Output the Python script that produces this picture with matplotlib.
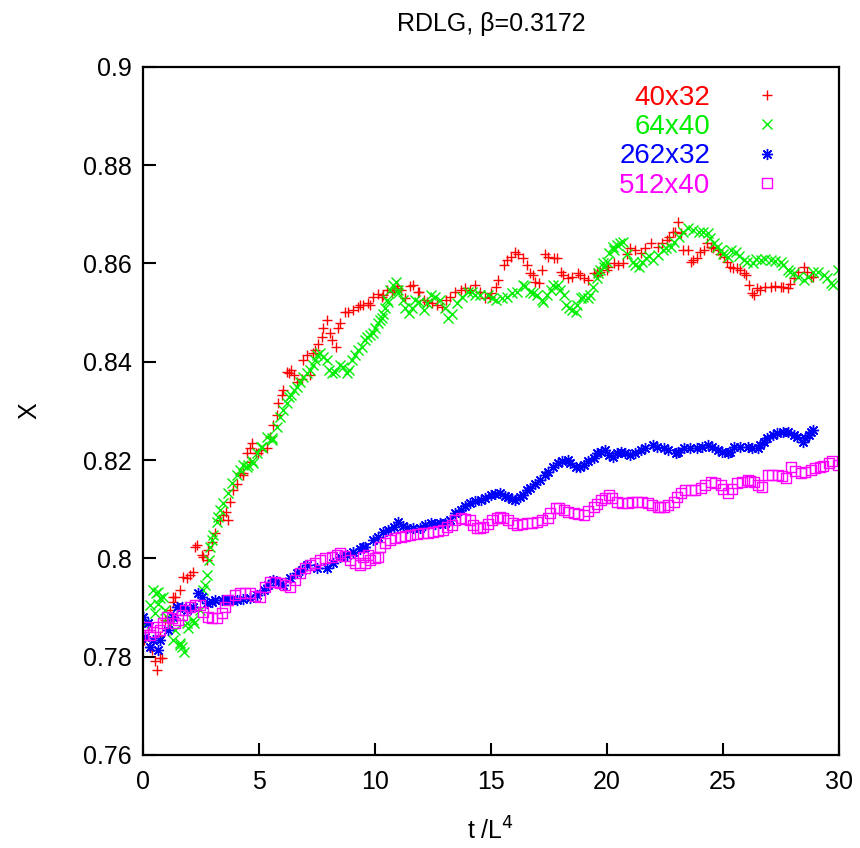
import matplotlib
matplotlib.use("Agg")
import matplotlib.pyplot as plt
from matplotlib.path import Path

plt.rcParams['font.family'] = ['Liberation Sans', 'DejaVu Sans']

# 40x32 (red +)
t_40x32 = [0.05, 0.3, 0.5, 0.6, 0.73, 0.75, 0.95, 1.16, 1.3, 1.38, 1.6, 1.73, 2.03, 2.16, 2.33,
           2.55, 2.76, 2.8, 3.1, 3.45, 3.65, 3.75, 4.05, 4.3, 4.5, 4.62, 4.7, 4.85, 5.1, 5.35,
           5.6, 5.83, 6.0, 6.2, 6.4, 6.65, 6.85, 7.07, 7.2, 7.4, 7.7, 7.94, 8.07, 8.3, 8.5,
           8.7, 9.06, 9.37, 9.5, 9.8, 9.93, 10.14, 10.5, 10.8, 10.96, 11.1, 11.3, 11.65, 11.9,
           12.1, 12.47, 12.9, 13.25, 13.7, 14.1, 14.33, 14.76, 15.0, 15.2, 15.3, 15.55, 15.84,
           16.05, 16.36, 16.57, 16.8, 17.05, 17.2, 17.45, 17.7, 18.0, 18.3, 18.73, 19.0, 19.42,
           19.7, 20.0, 20.3, 20.67, 21.0, 21.45, 21.88, 22.2, 22.6, 22.83, 23.05, 23.2, 23.5,
           23.6, 23.9, 24.2, 24.47, 24.77, 25.03, 25.3, 25.6, 25.9, 26.1, 26.33, 26.6, 27.06,
           27.5, 27.8, 28.05, 28.5, 28.8, 28.9,
           # second reading pass
           0.37, 0.8, 1.31, 1.88, 2.24, 2.6, 2.96, 3.32, 3.58, 3.89, 4.18, 4.32, 4.61, 4.97,
           5.47, 5.76, 6.05, 6.31, 6.51, 6.91, 7.34, 7.56, 7.77, 8.13, 8.42, 8.85, 9.28, 9.71,
           10.29, 10.36, 10.72, 10.93, 11.51, 11.87, 12.23, 12.66, 13.06, 13.45, 13.88, 14.53,
           14.96, 15.68, 16.18, 16.68, 16.9, 17.33, 17.83, 18.12, 18.48, 18.84, 19.19, 19.56,
           19.63, 20.06, 20.49, 20.85, 21.21, 21.64, 22.36, 22.69, 22.93, 23.29, 23.72, 24.01,
           24.3, 24.58, 24.87, 25.16, 25.44, 25.73, 25.99, 26.24, 26.45, 26.81, 27.24, 27.6,
           27.89, 28.25, 28.61]
x_40x32 = [0.7834, 0.7820, 0.7791, 0.7773, 0.7797, 0.7842, 0.7875, 0.7895, 0.7911, 0.7921, 0.7936,
           0.7962, 0.7966, 0.7972, 0.8027, 0.8007, 0.7997, 0.8017, 0.8052, 0.8088, 0.8078, 0.8115,
           0.8151, 0.8170, 0.8214, 0.8196, 0.8235, 0.8214, 0.8220, 0.8224, 0.8271, 0.8316, 0.8332,
           0.8379, 0.8383, 0.8359, 0.8365, 0.8414, 0.8373, 0.8424, 0.8450, 0.8485, 0.8458, 0.8430,
           0.8479, 0.8501, 0.8505, 0.8515, 0.8515, 0.8515, 0.8532, 0.8538, 0.8546, 0.8546, 0.8550,
           0.8546, 0.8530, 0.8556, 0.8542, 0.8525, 0.8519, 0.8511, 0.8532, 0.8546, 0.8546, 0.8556,
           0.8530, 0.8540, 0.8552, 0.8566, 0.8597, 0.8613, 0.8623, 0.8611, 0.8597, 0.8576, 0.8560,
           0.8586, 0.8613, 0.8611, 0.8582, 0.8570, 0.8580, 0.8570, 0.8580, 0.8582, 0.8586, 0.8601,
           0.8601, 0.8631, 0.8621, 0.8641, 0.8633, 0.8648, 0.8664, 0.8684, 0.8662, 0.8627, 0.8603,
           0.8611, 0.8627, 0.8633, 0.8627, 0.8613, 0.8593, 0.8591, 0.8580, 0.8556, 0.8536, 0.8546,
           0.8552, 0.8552, 0.8550, 0.8570, 0.8593, 0.8572, 0.8572,
           0.7814, 0.7797, 0.7922, 0.7959, 0.8024, 0.8003, 0.8034, 0.8078, 0.8095, 0.8139, 0.8173,
           0.8173, 0.8224, 0.8214, 0.8247, 0.8292, 0.8342, 0.8376, 0.8373, 0.8403, 0.8417, 0.8437,
           0.8468, 0.8444, 0.8468, 0.8502, 0.8512, 0.8519, 0.8532, 0.8536, 0.8542, 0.8553, 0.8553,
           0.8542, 0.8522, 0.8515, 0.8525, 0.8542, 0.8549, 0.8542, 0.8532, 0.8607, 0.8620, 0.8580,
           0.8563, 0.8620, 0.8610, 0.8576, 0.8573, 0.8576, 0.8566, 0.8580, 0.8576, 0.8593, 0.8597,
           0.8620, 0.8627, 0.8631, 0.8641, 0.8654, 0.8664, 0.8627, 0.8607, 0.8624, 0.8641, 0.8631,
           0.8620, 0.8603, 0.8590, 0.8586, 0.8576, 0.8539, 0.8549, 0.8551, 0.8554, 0.8551, 0.8559,
           0.8583, 0.8583]

# 64x40 (green x)
t_64x40 = [0.1, 0.3, 0.5, 0.55, 0.65, 0.75, 0.86, 0.95, 1.16, 1.38, 1.6, 1.68, 1.75, 1.94, 2.2,
           2.45, 2.6, 2.76, 2.85, 2.9, 3.0, 3.2, 3.3, 3.67, 4.05, 4.3, 4.5, 4.75, 4.9, 5.1, 5.35,
           5.55, 5.9, 6.2, 6.4, 6.65, 6.9, 7.2, 7.4, 7.65, 7.94, 8.15, 8.5, 8.8, 9.0, 9.28, 9.45,
           9.67, 9.8, 9.93, 10.14, 10.23, 10.45, 10.66, 10.9, 11.0, 11.2, 11.45, 11.74, 12.1, 12.4,
           12.8, 13.16, 13.55, 14.0, 14.33, 14.85, 15.2, 15.7, 16.14, 16.36, 16.7, 17.0, 17.26,
           17.57, 17.87, 18.13, 18.34, 18.65, 18.86, 19.16, 19.38, 19.6, 19.85, 20.07, 20.3, 20.45,
           20.7, 21.1, 21.36, 21.67, 22.0, 22.4, 22.75, 23.1, 23.5, 23.95, 24.34, 24.6, 24.9, 25.2,
           25.55, 25.9, 26.28, 26.63, 27.06, 27.5, 27.8, 28.05, 28.5, 28.9, 29.35, 29.65, 29.95,
           # second reading pass
           0.44, 0.66, 1.02, 1.31, 1.59, 1.88, 2.17, 2.67, 2.96, 3.25, 3.46, 3.82, 4.18, 4.54,
           4.68, 5.12, 5.55, 5.76, 6.05, 6.31, 6.51, 6.77, 7.06, 7.31, 7.51, 7.77, 8.03, 8.28,
           8.63, 8.89, 9.14, 9.57, 10.0, 10.29, 10.33, 10.53, 10.57, 10.76, 11.0, 11.29, 11.58,
           11.91, 12.23, 12.59, 13.02, 13.3, 13.73, 14.17, 14.53, 15.03, 15.46, 15.89, 16.47,
           16.82, 17.19, 17.4, 17.69, 17.97, 18.23, 18.48, 18.72, 18.98, 19.27, 19.56, 19.84,
           19.7, 19.99, 20.27, 20.56, 20.88, 21.21, 21.49, 21.82, 22.21, 22.54, 22.89, 23.29,
           23.72, 24.12, 24.44, 24.73, 25.01, 25.33, 25.7, 26.05, 26.42, 26.81, 27.24, 27.6,
           27.89, 28.25, 28.68, 29.11, 29.5, 29.76]
x_64x40 = [0.7864, 0.7905, 0.7889, 0.7929, 0.7931, 0.7919, 0.7921, 0.7895, 0.7864, 0.7854, 0.7824,
           0.7820, 0.7809, 0.7858, 0.7868, 0.7895, 0.7936, 0.7966, 0.7997, 0.8023, 0.8047, 0.8074,
           0.8098, 0.8133, 0.8169, 0.8190, 0.8186, 0.8194, 0.8214, 0.8226, 0.8247, 0.8241, 0.8287,
           0.8316, 0.8332, 0.8348, 0.8369, 0.8383, 0.8403, 0.8418, 0.8403, 0.8377, 0.8393, 0.8377,
           0.8403, 0.8424, 0.8430, 0.8450, 0.8454, 0.8458, 0.8479, 0.8485, 0.8509, 0.8546, 0.8562,
           0.8540, 0.8525, 0.8499, 0.8525, 0.8505, 0.8536, 0.8525, 0.8489, 0.8519, 0.8542, 0.8536,
           0.8536, 0.8525, 0.8532, 0.8542, 0.8556, 0.8542, 0.8536, 0.8521, 0.8546, 0.8556, 0.8536,
           0.8509, 0.8501, 0.8530, 0.8530, 0.8552, 0.8580, 0.8593, 0.8621, 0.8627, 0.8637, 0.8643,
           0.8603, 0.8593, 0.8611, 0.8607, 0.8627, 0.8633, 0.8654, 0.8672, 0.8664, 0.8662, 0.8641,
           0.8627, 0.8613, 0.8623, 0.8607, 0.8601, 0.8607, 0.8607, 0.8603, 0.8586, 0.8580, 0.8566,
           0.8582, 0.8576, 0.8560, 0.8586,
           0.7936, 0.7908, 0.7881, 0.7834, 0.7827, 0.7868, 0.7875, 0.7946, 0.8037, 0.8085, 0.8112,
           0.8153, 0.8180, 0.8190, 0.8197, 0.8227, 0.8244, 0.8268, 0.8302, 0.8329, 0.8342, 0.8359,
           0.8376, 0.8393, 0.8414, 0.8410, 0.8383, 0.8380, 0.8390, 0.8383, 0.8414, 0.8444, 0.8468,
           0.8488, 0.8498, 0.8525, 0.8522, 0.8556, 0.8546, 0.8509, 0.8509, 0.8522, 0.8519, 0.8532,
           0.8509, 0.8498, 0.8532, 0.8542, 0.8536, 0.8529, 0.8529, 0.8539, 0.8553, 0.8539, 0.8525,
           0.8536, 0.8556, 0.8546, 0.8515, 0.8505, 0.8515, 0.8532, 0.8536, 0.8570, 0.8600, 0.8586,
           0.8603, 0.8634, 0.8641, 0.8620, 0.8597, 0.8603, 0.8614, 0.8617, 0.8631, 0.8644, 0.8664,
           0.8668, 0.8664, 0.8651, 0.8634, 0.8620, 0.8627, 0.8614, 0.8603, 0.8608, 0.8608, 0.8605,
           0.8597, 0.8583, 0.8573, 0.8573, 0.8583, 0.8570, 0.8556]

# 262x32 (blue *)
t_262x32 = [0.0, 0.1, 0.43, 0.65, 1.08, 1.47, 1.9, 2.37, 2.76, 3.1, 3.6, 4.05, 4.6, 5.2, 5.6,
            6.04, 6.65, 7.07, 7.94, 8.5, 9.06, 9.5, 9.93, 10.36, 10.8, 11.0, 11.4, 11.96, 12.4,
            12.8, 13.25, 13.7, 14.1, 14.55, 14.98, 15.4, 15.75, 16.05, 16.4, 16.7, 17.1, 17.45,
            17.87, 18.3, 18.65, 19.0, 19.42, 19.72, 20.07, 20.24, 20.6, 21.0, 21.45, 21.97, 22.45,
            22.96, 23.3, 23.9, 24.34, 24.77, 25.2, 25.47, 26.07, 26.5, 26.76, 27.15, 27.6, 28.05,
            28.44, 28.7, 28.9,
            # second reading pass
            0.23, 0.3, 0.73, 1.31, 1.67, 2.17, 2.53, 2.96, 3.39, 3.82, 4.32, 4.9, 5.4, 5.83, 6.34,
            6.84, 7.49, 8.2, 8.78, 9.35, 9.57, 10.14, 10.57, 11.22, 11.65, 12.16, 12.59, 13.02,
            13.45, 13.88, 14.31, 14.74, 15.17, 15.6, 15.89, 16.25, 16.54, 16.9, 17.33, 17.69,
            18.05, 18.4, 18.84, 19.2, 19.56, 19.91, 20.42, 20.78, 21.21, 21.64, 22.14, 22.64,
            23.07, 23.58, 24.08, 24.51, 24.94, 25.3, 25.73, 26.24, 26.59, 26.88, 27.31, 27.81,
            28.18, 28.53, 28.78]
x_262x32 = [0.7881, 0.7840, 0.7834, 0.7813, 0.7854, 0.7901, 0.7895, 0.7929, 0.7909, 0.7915, 0.7915,
            0.7915, 0.7919, 0.7936, 0.7956, 0.7946, 0.7970, 0.7986, 0.7980, 0.8003, 0.8013, 0.8023,
            0.8037, 0.8054, 0.8064, 0.8074, 0.8062, 0.8062, 0.8072, 0.8072, 0.8078, 0.8098, 0.8112,
            0.8119, 0.8129, 0.8133, 0.8125, 0.8119, 0.8129, 0.8143, 0.8159, 0.8176, 0.8194, 0.8200,
            0.8186, 0.8190, 0.8204, 0.8216, 0.8210, 0.8206, 0.8216, 0.8210, 0.8220, 0.8231, 0.8224,
            0.8214, 0.8224, 0.8224, 0.8231, 0.8220, 0.8214, 0.8226, 0.8226, 0.8224, 0.8237, 0.8251,
            0.8257, 0.8251, 0.8237, 0.8251, 0.8261,
            0.7868, 0.7820, 0.7834, 0.7881, 0.7902, 0.7902, 0.7922, 0.7912, 0.7915, 0.7915, 0.7917,
            0.7925, 0.7946, 0.7952, 0.7959, 0.7976, 0.7980, 0.7990, 0.8007, 0.8020, 0.8024, 0.8044,
            0.8058, 0.8066, 0.8061, 0.8068, 0.8070, 0.8072, 0.8092, 0.8106, 0.8117, 0.8123, 0.8130,
            0.8127, 0.8120, 0.8125, 0.8138, 0.8151, 0.8169, 0.8186, 0.8197, 0.8193, 0.8186, 0.8197,
            0.8214, 0.8220, 0.8214, 0.8214, 0.8214, 0.8224, 0.8227, 0.8220, 0.8217, 0.8224, 0.8227,
            0.8227, 0.8217, 0.8217, 0.8227, 0.8225, 0.8231, 0.8244, 0.8254, 0.8256, 0.8246, 0.8244,
            0.8258]

# 512x40 (magenta squares)
t_512x40 = [0.0, 0.15, 0.43, 0.73, 1.04, 1.38, 1.68, 2.03, 2.46, 2.8, 3.2, 3.4, 3.67, 4.2, 4.6,
            5.05, 5.48, 5.9, 6.34, 6.77, 7.2, 7.64, 8.15, 8.5, 8.93, 9.37, 9.5, 9.8, 10.14, 10.23,
            10.66, 11.1, 11.5, 12.05, 12.5, 12.95, 13.3, 13.7, 14.1, 14.4, 14.67, 15.06, 15.4,
            15.75, 16.14, 16.57, 17.0, 17.45, 17.8, 18.13, 18.56, 19.0, 19.42, 19.72, 20.07, 20.45,
            20.9, 21.3, 21.75, 22.2, 22.45, 22.9, 23.2, 23.6, 24.05, 24.47, 24.9, 25.2, 25.6, 26.07,
            26.33, 26.7, 26.93, 27.36, 27.7, 27.92, 28.35, 28.8, 29.2, 29.56, 29.95,
            # second reading pass
            0.3, 0.59, 0.88, 1.24, 1.52, 1.81, 2.24, 2.6, 2.96, 3.53, 3.97, 4.4, 4.83, 5.26, 5.69,
            6.12, 6.55, 6.98, 7.41, 7.84, 8.35, 8.71, 9.14, 9.57, 9.71, 10.0, 10.43, 10.86, 11.29,
            11.8, 12.3, 12.73, 13.12, 13.45, 13.88, 14.24, 14.53, 14.88, 15.25, 15.53, 15.96,
            16.32, 16.75, 17.19, 17.54, 17.94, 18.33, 18.76, 19.19, 19.56, 19.91, 20.2, 20.63,
            21.06, 21.49, 21.93, 22.28, 22.64, 23.0, 23.36, 23.79, 24.22, 24.66, 25.01, 25.37,
            25.8, 26.16, 26.52, 27.1, 27.53, 28.1, 28.53, 28.97, 29.32, 29.69]
x_512x40 = [0.7844, 0.7860, 0.7850, 0.7854, 0.7881, 0.7868, 0.7885, 0.7901, 0.7905, 0.7881, 0.7879,
            0.7889, 0.7915, 0.7929, 0.7929, 0.7921, 0.7952, 0.7950, 0.7942, 0.7970, 0.7986, 0.7997,
            0.8003, 0.8011, 0.7997, 0.7986, 0.8003, 0.7997, 0.8003, 0.8023, 0.8037, 0.8043, 0.8047,
            0.8052, 0.8054, 0.8058, 0.8068, 0.8082, 0.8078, 0.8062, 0.8064, 0.8078, 0.8084, 0.8078,
            0.8068, 0.8072, 0.8074, 0.8082, 0.8102, 0.8098, 0.8092, 0.8088, 0.8104, 0.8119, 0.8129,
            0.8115, 0.8113, 0.8115, 0.8113, 0.8104, 0.8104, 0.8115, 0.8133, 0.8139, 0.8143, 0.8155,
            0.8149, 0.8133, 0.8153, 0.8159, 0.8155, 0.8145, 0.8170, 0.8170, 0.8163, 0.8186, 0.8174,
            0.8180, 0.8186, 0.8194, 0.8190,
            0.7844, 0.7861, 0.7868, 0.7878, 0.7875, 0.7895, 0.7905, 0.7891, 0.7878, 0.7902, 0.7925,
            0.7929, 0.7923, 0.7942, 0.7952, 0.7946, 0.7956, 0.7980, 0.7991, 0.8000, 0.8007, 0.8005,
            0.7990, 0.7991, 0.8007, 0.8000, 0.8031, 0.8041, 0.8045, 0.8049, 0.8052, 0.8056, 0.8063,
            0.8077, 0.8081, 0.8068, 0.8061, 0.8070, 0.8083, 0.8083, 0.8072, 0.8070, 0.8072, 0.8077,
            0.8092, 0.8102, 0.8095, 0.8090, 0.8096, 0.8110, 0.8123, 0.8122, 0.8112, 0.8115, 0.8115,
            0.8108, 0.8104, 0.8108, 0.8125, 0.8138, 0.8140, 0.8149, 0.8154, 0.8142, 0.8142, 0.8156,
            0.8158, 0.8149, 0.8169, 0.8167, 0.8178, 0.8176, 0.8183, 0.8188, 0.8197]

# square with a dot in the middle, like gnuplot's point type 4
box_dot = Path([(-1, -1), (1, -1), (1, 1), (-1, 1), (-1, -1),
                (-0.08, -0.08), (0.08, -0.08), (0.08, 0.08), (-0.08, 0.08), (-0.08, -0.08)],
               [Path.MOVETO, Path.LINETO, Path.LINETO, Path.LINETO, Path.CLOSEPOLY,
                Path.MOVETO, Path.LINETO, Path.LINETO, Path.LINETO, Path.CLOSEPOLY])

fig = plt.figure(figsize=(8.6, 8.48), dpi=100)
ax = fig.add_axes([0.1663, 0.1097, 0.8093, 0.8116])

ax.plot(t_40x32, x_40x32, ls='none', marker='+', ms=7.5, mew=1.0, color='#ff0000', label='40x32')
ax.plot(t_64x40, x_64x40, ls='none', marker='x', ms=6.5, mew=1.0, color='#00ee00', label='64x40')
ax.plot(t_262x32, x_262x32, ls='none', marker=(8, 2, 0), ms=8, mew=1.0, color='#0000ff', label='262x32')
ax.plot(t_512x40, x_512x40, ls='none', marker=box_dot, ms=7, mew=1.0, mfc='none',
        color='#ff00ff', label='512x40')

ax.set_xlim(0, 30)
ax.set_ylim(0.76, 0.9)
ax.set_xticks([0, 5, 10, 15, 20, 25, 30])
ax.set_yticks([0.76, 0.78, 0.8, 0.82, 0.84, 0.86, 0.88, 0.9])
ax.set_yticklabels(['0.76', '0.78', '0.8', '0.82', '0.84', '0.86', '0.88', '0.9'])
ax.tick_params(direction='in', length=9, width=1.5, labelsize=18, top=False, right=False)
ax.tick_params(axis='x', pad=11)
ax.tick_params(axis='y', pad=8)
for s in ax.spines.values():
    s.set_linewidth(1.6)

ax.set_xlabel('t /L$^4$', fontsize=18, labelpad=17)
ax.set_ylabel('X', fontsize=18, labelpad=30)
ax.set_title('RDLG, β=0.3172', fontsize=18, pad=26)

leg = ax.legend(loc='upper right', bbox_to_anchor=(0.9167, 0.974), markerfirst=False,
                frameon=False, fontsize=20, labelcolor='linecolor', handlelength=1.0,
                handletextpad=1.55, labelspacing=0.12, borderpad=0, borderaxespad=0)

fig.savefig('out.png', dpi=100)
